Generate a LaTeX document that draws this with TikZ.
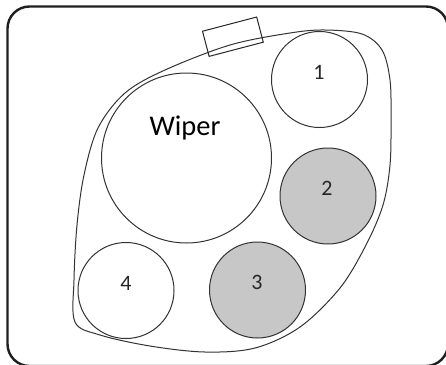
\documentclass[tikz,border=0pt]{standalone}
\usepackage{fontspec}
\setmainfont{Carlito}
\begin{document}
\begin{tikzpicture}[x=1pt,y=-1pt,
  frame/.style={draw=black!88,line width=2.4pt,rounded corners=22pt},
  belt/.style={draw=black!80,line width=1pt},
  pulley/.style={circle,draw=black!80,line width=1pt,inner sep=0pt},
  shaded/.style={fill=black!22},
  lbl/.style={inner sep=0pt,font=\fontsize{22}{24}\selectfont,text=black!85},
  tensioner/.style={draw=black!85,line width=1pt,minimum width=56pt,minimum height=26pt,inner sep=0pt,rotate=14.7}]
\useasboundingbox (0,0) rectangle (446,364);
\clip (0,0) rectangle (446,364);
\draw[frame] (7.5,6.5) rectangle (448,366);
\draw[belt] plot[smooth cycle,tension=0.55] coordinates {
 (75,322) (74,280) (77,225) (84,175) (98,128) (125,93) (165,70) (230,45)
 (290,33) (325,30) (362,34) (382,50) (390,80) (391,120) (390,165) (383,205)
 (366,245) (340,288) (300,327) (255,348) (205,352) (150,346) (100,335)};
\node[tensioner] (t) at (232.9,36.7) {};
\node[pulley,minimum size=96pt] (c1) at (319.5,79.5) {};
\node[pulley,minimum size=170pt] (w) at (186.5,158) {};
\node[pulley,shaded,minimum size=96pt] (c2) at (328,196) {};
\node[pulley,shaded,minimum size=96pt] (c3) at (257.5,290) {};
\node[pulley,minimum size=96pt] (c4) at (126,290.5) {};
\node[anchor=base,inner sep=0pt,font=\fontsize{28.5}{30}\selectfont] (wl) at (185,135) {Wiper};
\node[lbl] (l1) at (319,72) {1};
\node[lbl] (l2) at (327,188) {2};
\node[lbl] (l3) at (257,282) {3};
\node[lbl] (l4) at (126,283) {4};
\end{tikzpicture}
\end{document}
